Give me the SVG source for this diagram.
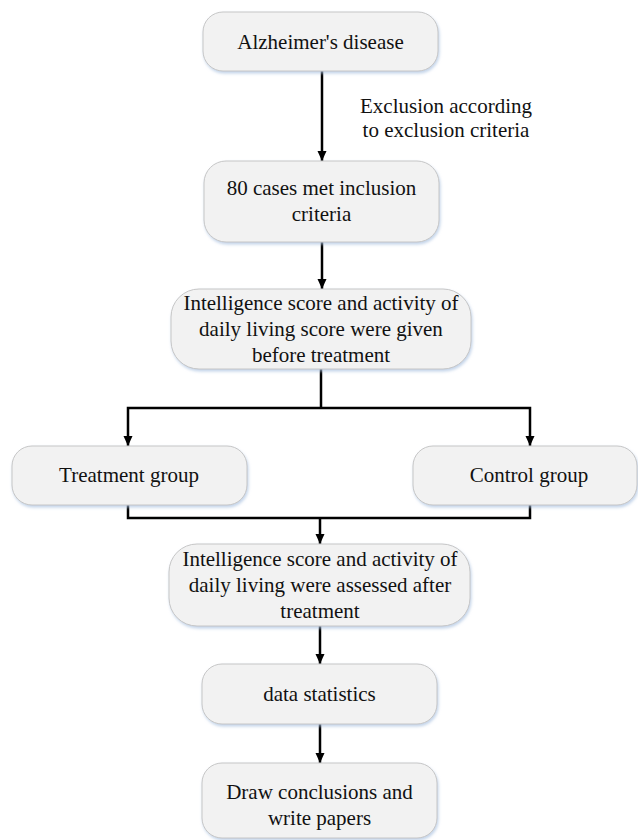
<svg xmlns="http://www.w3.org/2000/svg" width="638" height="840" viewBox="0 0 638 840">
  <style>
    .box { fill: #f2f2f2; stroke: #c6c6c6; stroke-width: 1; filter: url(#shadow); }
    .t { font-family: "Liberation Serif", "Times New Roman", serif; font-size: 21px; fill: #111; text-anchor: middle; }
    .c { fill: none; stroke: #000; stroke-width: 2.5; }
  </style>
  <defs>
    <filter id="shadow" x="-10%" y="-10%" width="125%" height="135%">
      <feGaussianBlur in="SourceAlpha" stdDeviation="1.5" result="b"/>
      <feOffset in="b" dx="1" dy="2" result="o"/>
      <feFlood flood-color="#a9c1e0" flood-opacity="0.7"/>
      <feComposite in2="o" operator="in" result="s"/>
      <feMerge>
        <feMergeNode in="s"/>
        <feMergeNode in="SourceGraphic"/>
      </feMerge>
    </filter>
    <marker id="arrow" markerUnits="userSpaceOnUse" markerWidth="10" markerHeight="10" refX="10" refY="4.5" orient="auto">
      <path d="M0,0 L10,4.5 L0,9 z" fill="#000"/>
    </marker>
  </defs>

  <rect width="638" height="840" fill="#fff"/>

  <g id="connectors">
    <line class="c" x1="322" y1="71" x2="322" y2="161" marker-end="url(#arrow)"/>
    <line class="c" x1="322" y1="242" x2="322" y2="289" marker-end="url(#arrow)"/>
    <polyline class="c" points="321,369 321,408"/>
    <polyline class="c" points="321,408 128,408 128,446" marker-end="url(#arrow)"/>
    <polyline class="c" points="321,408 530,408 530,446" marker-end="url(#arrow)"/>
    <polyline class="c" points="128,505 128,518 530,518 530,505"/>
    <line class="c" x1="320" y1="518" x2="320" y2="544" marker-end="url(#arrow)"/>
    <line class="c" x1="320" y1="626" x2="320" y2="664" marker-end="url(#arrow)"/>
    <line class="c" x1="320" y1="724" x2="320" y2="763" marker-end="url(#arrow)"/>
    <text class="t" x="446" y="113">Exclusion according</text>
    <text class="t" x="446" y="137">to exclusion criteria</text>
  </g>

  <g id="n-alzheimer">
    <rect class="box" x="203" y="12" width="235" height="59" rx="20" ry="20"/>
    <text class="t" x="320.5" y="49">Alzheimer's disease</text>
  </g>

  <g id="n-inclusion">
    <rect class="box" x="204" y="161" width="235" height="81" rx="22" ry="22"/>
    <text class="t" x="321.5" y="195">80 cases met inclusion</text>
    <text class="t" x="321.5" y="221">criteria</text>
  </g>

  <g id="n-before">
    <rect class="box" x="171" y="289" width="300" height="80" rx="28" ry="28"/>
    <text class="t" x="321" y="310">Intelligence score and activity of</text>
    <text class="t" x="321" y="336">daily living score were given</text>
    <text class="t" x="321" y="362">before treatment</text>
  </g>

  <g id="n-treatment">
    <rect class="box" x="12" y="446" width="235" height="59" rx="20" ry="20"/>
    <text class="t" x="129" y="482">Treatment group</text>
  </g>

  <g id="n-control">
    <rect class="box" x="413" y="446" width="224" height="59" rx="20" ry="20"/>
    <text class="t" x="529" y="482">Control group</text>
  </g>

  <g id="n-after">
    <rect class="box" x="169" y="544" width="301" height="82" rx="28" ry="28"/>
    <text class="t" x="320" y="566">Intelligence score and activity of</text>
    <text class="t" x="320" y="592">daily living were assessed after</text>
    <text class="t" x="320" y="618">treatment</text>
  </g>

  <g id="n-statistics">
    <rect class="box" x="202" y="664" width="235" height="60" rx="20" ry="20"/>
    <text class="t" x="319.5" y="701">data statistics</text>
  </g>

  <g id="n-conclusions">
    <rect class="box" x="202" y="763" width="235" height="75" rx="20" ry="20"/>
    <text class="t" x="319.5" y="799">Draw conclusions and</text>
    <text class="t" x="319.5" y="825">write papers</text>
  </g>
</svg>
